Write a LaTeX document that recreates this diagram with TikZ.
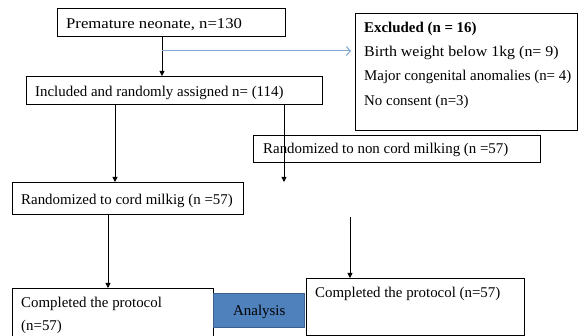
\documentclass[tikz,border=0pt]{standalone}
\usepackage{fontspec}
\setmainfont{Liberation Serif}
\usetikzlibrary{arrows.meta}
\definecolor{blueline}{HTML}{7EA6D0}
\definecolor{anfill}{HTML}{4F81BD}
\definecolor{andraw}{HTML}{3A6190}
\tikzset{
  box/.style={draw=black, line width=0.8pt, fill=white, anchor=north west, inner sep=0pt},
  txt/.style={anchor=base west, inner sep=0pt, font=\fontsize{14.9}{17}\selectfont},
  arr/.style={draw=black, line width=0.8pt, -{Triangle[length=5pt,width=5pt]}},
  plain/.style={draw=black, line width=0.8pt},
  bluearr/.style={draw=blueline, line width=1pt, -{Straight Barb[length=4pt,width=9pt]}}
}
\begin{document}
\begin{tikzpicture}[x=1pt,y=-1pt]
\useasboundingbox (0,0) rectangle (578,336);
% boxes
\node[box, minimum width=228pt, minimum height=28pt] (b1) at (57,8) {};
\node[box, minimum width=296pt, minimum height=28pt] (b2) at (26,76) {};
\node[box, minimum width=222pt, minimum height=117pt] (ex) at (355,13) {};
\node[box, minimum width=231pt, minimum height=32pt] (rc) at (12,182) {};
\node[box, minimum width=201pt, minimum height=50pt] (lc) at (12,288) {};
\node[box, minimum width=218pt, minimum height=57pt] (rcp) at (306,278) {};
\node[box, draw=andraw, fill=anfill, minimum width=91pt, minimum height=34pt] (an) at (213,293) {};
% texts
\node[txt] (t1) at (66,28.5) {\scalebox{1.12}[1]{Premature neonate, n=130}};
\node[txt] (t2) at (35,96.5) {Included and randomly assigned n= (114)};
\node[txt] (t3) at (364,33) {\bfseries Excluded (n = 16)};
\node[txt] (t4) at (364,57) {\scalebox{1.07}[1]{Birth weight below 1kg (n= 9)}};
\node[txt] (t5) at (364,81) {Major congenital anomalies (n= 4)};
\node[txt] (t6) at (364,106) {No consent (n=3)};
\node[txt] (t8) at (21,205) {Randomized to cord milkig (n =57)};
\node[txt] (t9) at (21,308) {Completed the protocol};
\node[txt] (t10) at (21,331) {(n=57)};
\node[txt] (t11) at (315,298) {Completed the protocol (n=57)};
\node[txt] (t12) at (233,316) {Analysis};
% connectors
\coordinate (xa) at (162,0);
\coordinate (jn) at (162,51);
\coordinate (xl) at (115,0);
\coordinate (xr) at (284,0);
\coordinate (xc) at (108,0);
\coordinate (xd) at (350,0);
\coordinate (rend) at (284,182);
\coordinate (dstart) at (350,217);
\draw[arr] (b1.south -| xa) -- (b2.north -| xa);
\draw[bluearr] (jn) -- ([xshift=-4pt]ex.west |- jn);
\draw[arr] (b2.south -| xl) -- (rc.north -| xl);
\draw[arr] (rc.south -| xc) -- (lc.north -| xc);
\draw[arr] (dstart) -- (rcp.north -| xd);
% non-cord box drawn before the crossing line
\node[box, minimum width=287pt, minimum height=27pt] (nc) at (253,135) {};
\node[txt] (t7) at (263,154) {Randomized to non cord milking (n =57)};
\draw[arr] (b2.south -| xr) -- (rend);
\end{tikzpicture}
\end{document}
